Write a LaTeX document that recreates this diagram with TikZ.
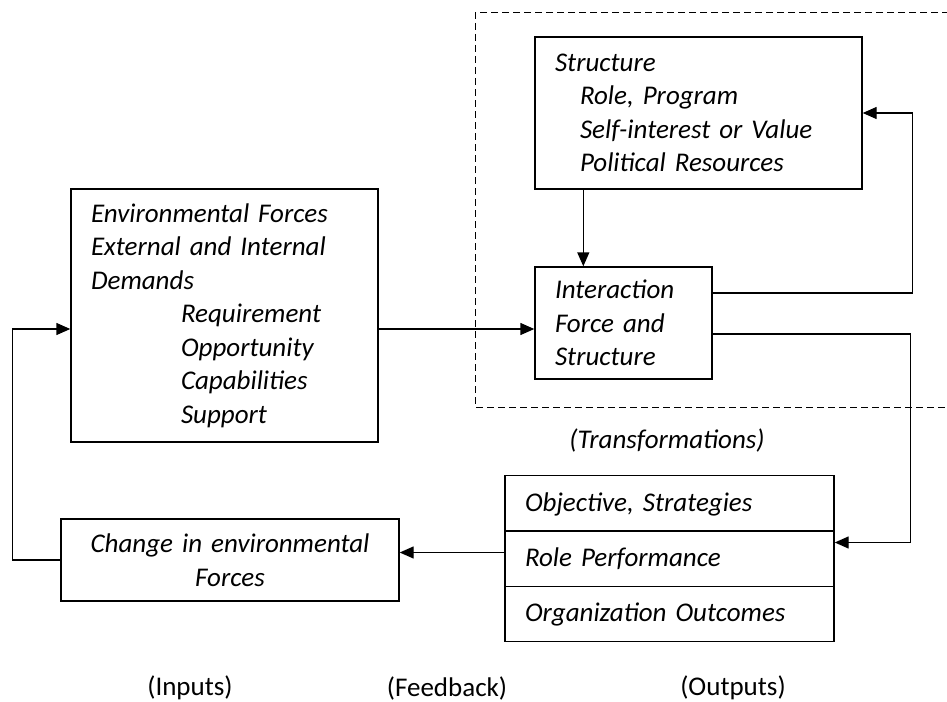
\documentclass[tikz,border=0pt]{standalone}
\usepackage{fontspec}
\setmainfont{Carlito}[WordSpace=0.8]
\usetikzlibrary{arrows.meta,positioning,calc,shapes.multipart}
\tikzset{
  >={Triangle[length=14pt,width=12pt]},
  blk/.style   ={draw, line width=1.4pt, inner xsep=20pt, inner ysep=0pt, align=left, font=\fontsize{27}{33.5}\selectfont\itshape},
  outbox/.style={draw, line width=1.4pt, rectangle split, rectangle split parts=3, inner xsep=20pt, inner ysep=9pt, text width=289pt, align=left, font=\fontsize{27}{33.5}\selectfont\itshape},
  frame/.style ={line width=1pt, dash pattern=on 7pt off 4pt},
  arr/.style   ={->, line width=1.4pt},
  lbl/.style   ={font=\fontsize{27}{30}\selectfont},
}
\newcommand{\ostrut}{\rule[-10pt]{0pt}{36pt}}

\begin{document}
\begin{tikzpicture}[x=1pt, y=-1pt]
  \useasboundingbox (0,0) rectangle (947,701);

  \draw[frame] (960,13) -- (475,13) -- (475,407) -- (960,407);

  \node[blk, text width=267pt, minimum height=253pt] (env) at (224.5,315.5) {Environmental Forces\\External and Internal\\Demands\\\hspace*{90pt}Requirement\\\hspace*{90pt}Opportunity\\\hspace*{90pt}Capabilities\\\hspace*{90pt}Support};
  \node[blk, text width=287pt, minimum height=152pt] (struct) at (698.5,113) {Structure\\\hspace*{25pt}Role, Program\\\hspace*{25pt}Self-interest or Value\\\hspace*{25pt}Political Resources};
  \node[blk, text width=137pt, minimum height=112pt] (inter) at (623.5,323) {Interaction\\Force and\\Structure};
  \node[outbox] (out) at (669.5,558.5) {\ostrut Objective, Strategies\nodepart{two}\ostrut Role Performance\nodepart{three}\ostrut Organization Outcomes};
  \node[blk, align=center, text width=298pt, minimum height=82pt] (chg) at (230,560) {Change in environmental\\Forces};

  \node[lbl, font=\fontsize{27}{30}\selectfont\itshape] (trans) at (667,440) {(Transformations)};
  \node[lbl] (inputs) at (190,688) {(Inputs)};
  \node[lbl] (feedback) at (447,688) {(Feedback)};
  \node[lbl] (outputs) at (733,688) {(Outputs)};

  \draw[arr] ([yshift=-13.5pt]env.east) -- ([yshift=-13.5pt]env.east -| inter.west);
  \draw[arr] ([xshift=49pt]struct.south west) -- ([xshift=49pt]inter.north west);
  \draw[arr] ([yshift=30pt]inter.east) -| ([xshift=50pt]struct.east) -- (struct.east);
  \draw[arr] ([yshift=-11pt]inter.east) -| ([xshift=76pt,yshift=16pt]out.east) -- ([yshift=16pt]out.east);
  \draw[arr] ([yshift=6pt]out.west) -- ([yshift=6pt]out.west -| chg.east);
  \draw[arr] (chg.west) -- ++(-48,0) |- ([yshift=-13.5pt]env.west);
\end{tikzpicture}
\end{document}
